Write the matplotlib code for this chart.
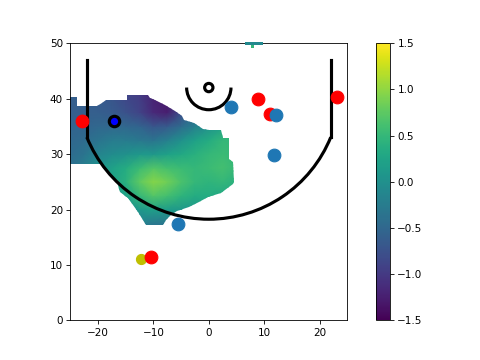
import numpy as np
import matplotlib
matplotlib.use("Agg")
import matplotlib.pyplot as plt
from matplotlib.path import Path
from matplotlib.patches import PathPatch, Arc, Circle

# ---------------- data ----------------
# heat-map value grid (rows: y ascending, cols: x ascending)
grid_x = [-25, -22.5, -20, -17.5, -15, -12.5, -10, -7.5, -5, -2.5, 0, 2.5, 5]
grid_y = [15, 17.5, 20, 22.5, 25, 27.5, 30, 32.5, 35, 37.5, 40, 42.5]
grid_vals = [
    [0, 0, 0, 0, 0.0, -0.2, -0.4, -0.4, -0.2, 0, 0, 0, 0],
    [0, 0, 0, 0, 0.0, -0.15, -0.3, -0.3, -0.1, 0.0, 0.1, 0.1, 0.1],
    [0, 0, 0, 0, 0.0, 0.1, 0.2, 0.15, 0.1, 0.1, 0.2, 0.2, 0.2],
    [0, 0, 0, 0.1, 0.2, 0.5, 0.7, 0.6, 0.45, 0.35, 0.35, 0.3, 0.3],
    [0, 0, 0.1, 0.2, 0.4, 0.75, 0.95, 0.85, 0.65, 0.5, 0.45, 0.5, 0.4],
    [-0.4, -0.2, 0.05, 0.2, 0.35, 0.55, 0.7, 0.6, 0.55, 0.5, 0.55, 0.6, 0.5],
    [-0.45, -0.35, -0.15, -0.05, 0.0, 0.1, 0.1, 0.2, 0.3, 0.4, 0.5, 0.55, 0.5],
    [-0.5, -0.45, -0.35, -0.25, -0.25, -0.3, -0.35, -0.2, 0.0, 0.2, 0.35, 0.5, 0.5],
    [-0.55, -0.55, -0.5, -0.5, -0.5, -0.55, -0.7, -0.65, -0.45, -0.2, 0.0, 0.2, 0.3],
    [-0.6, -0.6, -0.6, -0.65, -0.75, -0.9, -1.15, -1.25, -0.8, -0.4, -0.2, 0, 0],
    [-0.6, -0.6, -0.65, -0.7, -0.85, -0.95, -1.2, -1.3, -1.0, -0.6, -0.3, 0, 0],
    [-0.6, -0.6, -0.7, -0.8, -0.9, -1.0, -1.2, -1.3, -1.0, -0.6, -0.3, 0, 0],
]

# outline of the region where the heat map has values
outline_x = [-25, -23.8, -23.8, -20.2, -19.3, -18.5, -14.8, -14.8, -11.0, -10.6,
             -9.4, -7.9, -7.0, -6.1, -4.9, -4.4, -2.6, -1.0, 0.0, 2.2, 2.5,
             3.7, 3.7, 4.3, 4.5, 4.3, 2.2, -0.2, -1.7, -3.5, -5.8, -6.8, -7.7,
             -8.3, -11.3, -12.8, -14.6, -16.0, -16.6, -18.0, -19.4, -25]
outline_y = [40.3, 40.3, 38.7, 38.7, 39.3, 39.8, 39.8, 40.6, 40.6, 40.1,
             39.6, 38.9, 38.3, 37.7, 36.8, 36.2, 35.6, 34.6, 34.4, 34.4, 32.9,
             32.9, 29.2, 28.5, 25.0, 24.6, 22.9, 22.3, 21.4, 20.5, 19.7, 19.0, 18.1,
             17.2, 17.2, 19.6, 22.0, 23.2, 25.0, 26.5, 28.3, 28.3]

# small patch at the top edge
patch_x_edges = [6.5, 9.8]
patch_y_edges = [49.6, 50.2]
patch_val = -0.1
dot_x_edges = [7.6, 8.2]
dot_y_edges = [49.1, 49.6]
dot_val = 0.5

# shots
red_x = [-22.8, 8.9, 11.0, 23.2, -10.45]
red_y = [36.0, 40.0, 37.3, 40.3, 11.5]
blue_x = [4.0, 12.2, 11.7, -5.5]
blue_y = [38.5, 37.1, 29.9, 17.3]
yellow_x = [-12.3]
yellow_y = [11.0]
player_x = [-17.1]
player_y = [36.0]

# court geometry
hoop_y = 42.0
hoop_r = 0.75
ra_r = 4.0
three_r = 23.75
corner_x = 22.0
baseline_y = 47.0

vmin, vmax = -1.5, 1.5
cbar_ticks = [-1.5, -1.0, -0.5, 0.0, 0.5, 1.0, 1.5]

# ---------------- plot ----------------
fig, ax = plt.subplots(figsize=(6.4, 4.8), dpi=75)

X, Y = np.meshgrid(grid_x, grid_y)
mesh = ax.pcolormesh(X, Y, np.array(grid_vals), shading='gouraud',
                     cmap='viridis', vmin=vmin, vmax=vmax, zorder=1)
clip = PathPatch(Path(np.column_stack([outline_x, outline_y]), closed=False),
                 transform=ax.transData, facecolor='none', edgecolor='none')
ax.add_patch(clip)
mesh.set_clip_path(clip)

ax.pcolormesh(patch_x_edges, patch_y_edges, np.array([[patch_val]]),
              cmap='viridis', vmin=vmin, vmax=vmax, zorder=3, clip_on=False)
ax.pcolormesh(dot_x_edges, dot_y_edges, np.array([[dot_val]]),
              cmap='viridis', vmin=vmin, vmax=vmax, zorder=3)

# court lines
lw = 3
theta = np.degrees(np.arcsin(corner_x / three_r))
join_y = hoop_y - np.sqrt(three_r**2 - corner_x**2)
ax.plot([-corner_x, -corner_x], [join_y, baseline_y], color='k', lw=lw, zorder=3)
ax.plot([corner_x, corner_x], [join_y, baseline_y], color='k', lw=lw, zorder=3)
ax.add_patch(Arc((0, hoop_y), 2 * three_r, 2 * three_r, theta1=270 - theta,
                 theta2=270 + theta, color='k', lw=lw, zorder=3))
ax.add_patch(Arc((0, hoop_y), 2 * ra_r, 2 * ra_r, theta1=180, theta2=360,
                 color='k', lw=lw, zorder=3))
ax.add_patch(Circle((0, hoop_y), hoop_r, fill=False, color='k', lw=lw, zorder=3))

# shots
ax.scatter(yellow_x, yellow_y, s=95, color='y', zorder=4)
ax.scatter(red_x, red_y, s=150, color='r', zorder=5)
ax.scatter(blue_x, blue_y, s=150, color='tab:blue', zorder=6)
ax.plot(player_x, player_y, 'o', ms=10, mfc='b', mec='k', mew=3, zorder=7)

ax.set_xlim(-25, 25)
ax.set_ylim(0, 50)
ax.set_aspect('equal')
ax.set_xticks([-20, -10, 0, 10, 20])
ax.set_yticks([0, 10, 20, 30, 40, 50])

cb = fig.colorbar(mesh, ax=ax)
cb.set_ticks(cbar_ticks)
ax.set_anchor('C')

fig.savefig('out.png', dpi=75)
